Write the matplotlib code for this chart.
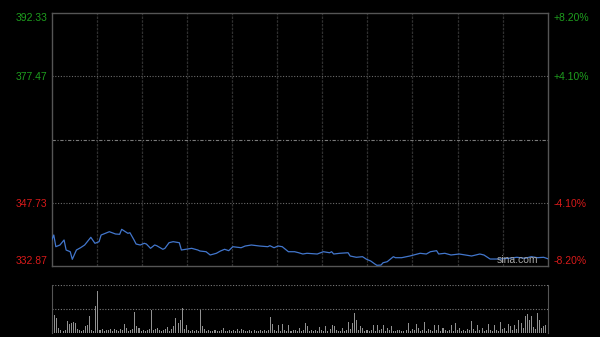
import matplotlib
matplotlib.use("Agg")
import matplotlib.pyplot as plt

# ---- data ----
prev_close = 362.60
y_ticks = [332.87, 347.73, 377.47, 392.33]
y_labels = ["332.87", "347.73", "377.47", "392.33"]
pct_labels = ["-8.20%", "-4.10%", "+4.10%", "+8.20%"]

minutes = [0, 1, 2, 4, 6, 7, 9, 10, 12, 14, 16, 19, 21, 23, 24, 28, 31, 33, 34, 37,
           38, 40, 41, 43, 45, 46, 48, 50, 51, 54, 55, 57, 59, 62, 63, 66, 68, 71, 72,
           75, 77, 80, 82, 84, 86, 88, 92, 94, 97, 101, 105, 106, 108, 110, 112, 115,
           118, 120, 122, 124, 129, 132, 135, 136, 137, 140, 144, 145, 148, 151, 153,
           155, 157, 158, 160, 161, 163, 166, 167, 170, 174, 179, 182, 184, 187, 188,
           191, 194, 198, 204, 208, 210, 213, 218, 222, 226, 230, 233, 236, 239, 241]
prices = [338.99, 340.16, 337.41, 337.81, 338.99, 336.63, 336.23, 334.44, 336.63, 337.17,
          337.81, 339.62, 338.21, 338.59, 340.16, 340.94, 340.40, 340.33, 341.50, 340.56,
          340.70, 338.99, 338.04, 337.81, 338.21, 338.04, 337.03, 337.81, 337.65, 336.80,
          337.03, 338.35, 338.59, 338.35, 336.63, 336.87, 337.03, 336.63, 336.40,
          336.23, 335.46, 335.86, 336.40, 336.80, 336.47, 337.41, 337.17, 337.57,
          337.81, 337.57, 337.41, 337.65, 337.17, 337.57, 337.41, 336.23, 336.23,
          335.99, 335.69, 335.86, 335.69, 336.23, 335.99, 336.23, 335.69, 335.86,
          335.99, 335.22, 334.92, 335.06, 334.44, 334.04, 333.34, 333.03, 333.10,
          333.64, 333.88, 335.06, 334.82, 334.82, 335.22, 335.86, 335.69, 336.23,
          336.47, 335.69, 335.86, 335.46, 335.69, 335.22, 335.69, 335.46, 334.51,
          334.51, 334.68, 334.92, 334.68, 335.06, 334.82, 334.92, 334.59]

volumes = [26, 38, 31, 10, 6, 5, 7, 26, 19, 21,
           23, 21, 8, 6, 5, 7, 15, 17, 35, 7,
           5, 56, 87, 6, 8, 5, 7, 6, 9, 5,
           8, 6, 5, 9, 7, 19, 10, 5, 6, 9,
           44, 14, 11, 5, 6, 4, 7, 9, 47, 6,
           8, 10, 7, 5, 6, 9, 12, 5, 8, 14,
           31, 21, 28, 52, 8, 17, 6, 5, 7, 4,
           6, 5, 47, 14, 9, 5, 6, 4, 5, 7,
           5, 4, 6, 10, 5, 4, 7, 5, 6, 4,
           8, 5, 9, 6, 4, 5, 6, 5, 7, 4,
           5, 6, 4, 7, 5, 6, 33, 19, 6, 5,
           16, 5, 19, 6, 4, 16, 5, 6, 7, 5,
           10, 4, 6, 21, 14, 5, 6, 4, 7, 5,
           12, 6, 4, 14, 5, 8, 16, 14, 6, 5,
           4, 10, 5, 6, 23, 8, 21, 42, 28, 6,
           14, 10, 5, 6, 4, 7, 16, 5, 17, 6,
           8, 17, 5, 10, 6, 14, 5, 4, 6, 7,
           5, 4, 6, 21, 5, 8, 6, 19, 10, 5,
           6, 23, 5, 9, 6, 4, 16, 6, 17, 5,
           10, 6, 4, 7, 16, 5, 21, 6, 10, 5,
           7, 5, 9, 6, 26, 8, 5, 16, 6, 10,
           5, 7, 19, 6, 5, 17, 6, 4, 23, 8,
           10, 5, 19, 14, 6, 17, 9, 28, 21, 10,
           35, 40, 28, 35, 12, 8, 42, 28, 10, 14, 16]

# ---- style ----
BG = "#000000"
GREEN = "#1e9e1e"
RED = "#d81a1a"
SPINE = "#555555"
FONT = "Liberation Sans"

fig = plt.figure(figsize=(6.0, 3.37), dpi=100, facecolor=BG)

# main price axes
ax = fig.add_axes([0.0862, 0.2107, 0.8267, 0.7498], facecolor=BG)
ax.set_xlim(0, 241)
ax.set_ylim(y_ticks[0], y_ticks[-1])
for s in ax.spines.values():
    s.set_color(SPINE)
    s.set_linewidth(1.0)

# vertical grid: 11 sections
for k in range(1, 11):
    ax.axvline(241 * k / 11, color="#303030", lw=0.9, ls=(0, (2, 1)), zorder=1)
for v in (y_ticks[1], y_ticks[2]):
    ax.axhline(v, color="#6a6a6a", lw=0.8, ls=(0, (1, 1.5)), zorder=1)
ax.axhline(prev_close, color="#7a7a7a", lw=0.8, ls=(0, (3, 1.5, 1, 1.5)), zorder=1)

ax.plot(minutes, prices, color="#4276cc", lw=0.9, zorder=3)

ax.set_xticks([])
ax.set_yticks(y_ticks)
ax.set_yticklabels(y_labels, fontfamily=FONT, fontsize=7.5)
ax.tick_params(axis="y", length=0, pad=3)
for lab, v in zip(ax.get_yticklabels(), y_ticks):
    lab.set_color(GREEN if v > prev_close else RED)
ax.get_yticklabels()[0].set_va("bottom")
ax.get_yticklabels()[-1].set_va("top")

ax2 = ax.twinx()
ax2.set_ylim(y_ticks[0], y_ticks[-1])
ax2.set_yticks(y_ticks)
ax2.set_yticklabels(pct_labels, fontfamily=FONT, fontsize=7.5)
ax2.tick_params(axis="y", length=0, pad=4)
for lab, v in zip(ax2.get_yticklabels(), y_ticks):
    lab.set_color(GREEN if v > prev_close else RED)
ax2.get_yticklabels()[0].set_va("bottom")
ax2.get_yticklabels()[-1].set_va("top")
for s in ax2.spines.values():
    s.set_visible(False)

ax.text(0.98, 0.005, "sina.com", transform=ax.transAxes, ha="right", va="bottom",
        color="#a8a8a8", fontsize=7.5, fontfamily=FONT, zorder=4)

# volume axes
axv = fig.add_axes([0.0862, 0.0119, 0.8267, 0.1424], facecolor=BG)
axv.set_xlim(-0.5, 241)
axv.set_ylim(0, 100)
axv.bar(range(len(volumes)), volumes, width=0.5, color="#909090", zorder=2)
axv.axhline(100, color="#7a7a7a", lw=0.8, ls=(0, (1, 1.5)), zorder=1)
axv.axhline(50, color="#7a7a7a", lw=0.8, ls=(0, (1, 1.5)), zorder=1)
axv.spines["top"].set_visible(False)
axv.spines["bottom"].set_visible(False)
axv.spines["left"].set_color(SPINE)
axv.spines["right"].set_color(SPINE)
axv.set_xticks([])
axv.set_yticks([])

fig.savefig("out.png", dpi=100, facecolor=BG)
